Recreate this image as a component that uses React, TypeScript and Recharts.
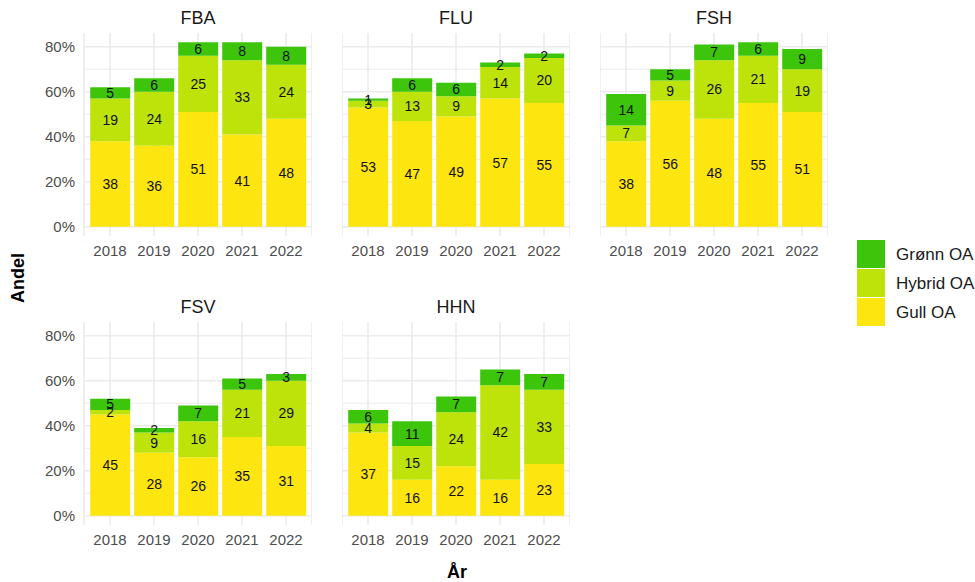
import { BarChart, Bar, XAxis, YAxis, CartesianGrid, LabelList } from 'recharts'

const panels = ['FBA', 'FLU', 'FSH', 'FSV', 'HHN']
const years = ['2018', '2019', '2020', '2021', '2022']

// one row per panel, same order as `panels`
const gullOA = [
  [38, 36, 51, 41, 48],
  [53, 47, 49, 57, 55],
  [38, 56, 48, 55, 51],
  [45, 28, 26, 35, 31],
  [37, 16, 22, 16, 23],
]
const hybridOA = [
  [19, 24, 25, 33, 24],
  [3, 13, 9, 14, 20],
  [7, 9, 26, 21, 19],
  [2, 9, 16, 21, 29],
  [4, 15, 24, 42, 33],
]
const gronnOA = [
  [5, 6, 6, 8, 8],
  [1, 6, 6, 2, 2],
  [14, 5, 7, 6, 9],
  [5, 2, 7, 5, 3],
  [6, 11, 7, 7, 7],
]

const yTicks = [0, 20, 40, 60, 80]
const yMinor = [10, 30, 50, 70]

const COLORS = { gronn: '#3CC50B', hybrid: '#BEE30B', gull: '#FDE50F' }
const legendItems = [
  { key: 'gronn', label: 'Grønn OA' },
  { key: 'hybrid', label: 'Hybrid OA' },
  { key: 'gull', label: 'Gull OA' },
]

const plotLefts = [84, 342, 600]
const plotTops = [33, 322]
const plotW = 228
const plotH = 203
const xAxisH = 30
const FONT = '"Liberation Sans", Arial, sans-serif'

function Panel({ idx }: { idx: number }) {
  const col = idx % 3
  const row = Math.floor(idx / 3)
  const showY = col === 0
  const yW = showY ? 60 : 0
  const data = years.map((year, i) => ({
    year,
    gull: gullOA[idx][i],
    hybrid: hybridOA[idx][i],
    gronn: gronnOA[idx][i],
  }))

  const label = { position: 'center' as const, fill: '#111', fontSize: 14 }

  return (
    <div style={{ position: 'absolute', left: plotLefts[col] - yW, top: plotTops[row] }}>
      <BarChart
        width={plotW + yW}
        height={plotH + xAxisH}
        data={data}
        margin={{ top: 0, right: 0, bottom: 0, left: 0 }}
        barCategoryGap="5%"
      >
        <CartesianGrid horizontalValues={yMinor} vertical={false} stroke="#EBEBEB" strokeWidth={1} />
        <CartesianGrid horizontalValues={yTicks} stroke="#EBEBEB" strokeWidth={1.6} />
        <XAxis
          dataKey="year"
          axisLine={false}
          tickLine={false}
          tickSize={0}
          tickMargin={9}
          height={xAxisH}
          interval={0}
          padding={{ left: 4, right: 4 }}
          tick={{ fill: '#4D4D4D', fontSize: 15 }}
        />
        <YAxis
          type="number"
          domain={[-4.1, 86.1]}
          allowDataOverflow
          ticks={yTicks}
          hide={!showY}
          width={yW}
          axisLine={false}
          tickLine={false}
          tickSize={0}
          tickMargin={9}
          tickFormatter={(v: number) => `${v}%`}
          tick={{ fill: '#4D4D4D', fontSize: 15 }}
        />
        <Bar dataKey="gull" stackId="a" fill={COLORS.gull} isAnimationActive={false}>
          <LabelList dataKey="gull" {...label} />
        </Bar>
        <Bar dataKey="hybrid" stackId="a" fill={COLORS.hybrid} isAnimationActive={false}>
          <LabelList dataKey="hybrid" {...label} />
        </Bar>
        <Bar dataKey="gronn" stackId="a" fill={COLORS.gronn} isAnimationActive={false}>
          <LabelList dataKey="gronn" {...label} />
        </Bar>
      </BarChart>
    </div>
  )
}

export default function App() {
  return (
    <div
      style={{
        position: 'absolute',
        left: 0,
        top: 0,
        width: 975,
        height: 582,
        background: '#fff',
        fontFamily: FONT,
        overflow: 'hidden',
      }}
    >
      {panels.map((p, i) => (
        <Panel key={p} idx={i} />
      ))}
      <svg
        width={975}
        height={582}
        style={{ position: 'absolute', left: 0, top: 0, pointerEvents: 'none' }}
        fontFamily={FONT}
      >
        {panels.map((p, i) => (
          <text
            key={p}
            x={plotLefts[i % 3] + plotW / 2}
            y={plotTops[Math.floor(i / 3)] - 9}
            textAnchor="middle"
            fontSize={18}
            fill="#1A1A1A"
          >
            {p}
          </text>
        ))}
        <text
          transform="translate(24,278) rotate(-90)"
          textAnchor="middle"
          fontSize={18}
          fontWeight="bold"
          fill="#000"
        >
          Andel
        </text>
        <text x={457} y={578} textAnchor="middle" fontSize={18} fontWeight="bold" fill="#000">
          År
        </text>
        {legendItems.map((item, i) => (
          <g key={item.key}>
            <rect x={857} y={240 + i * 29} width={28} height={28} fill={COLORS[item.key as keyof typeof COLORS]} />
            <text x={896} y={254 + i * 29} dy="0.36em" fontSize={17} fill="#1A1A1A">
              {item.label}
            </text>
          </g>
        ))}
      </svg>
    </div>
  )
}
